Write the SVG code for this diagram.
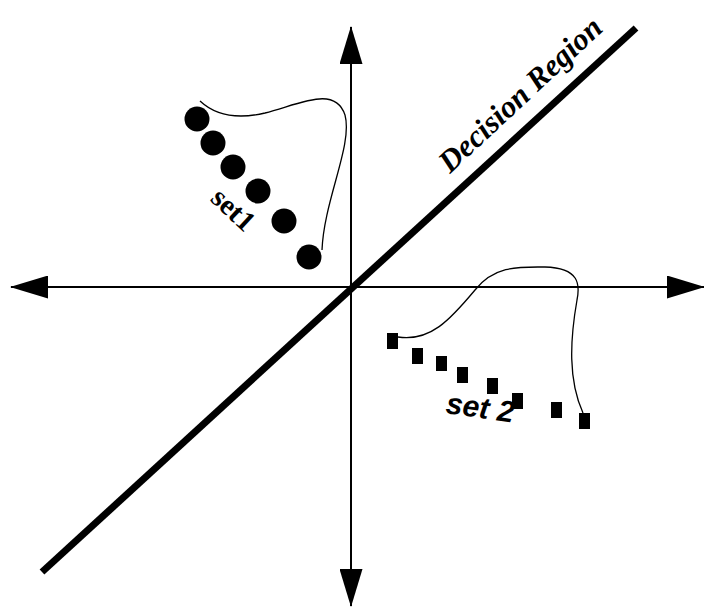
<svg xmlns="http://www.w3.org/2000/svg" width="704" height="607" viewBox="0 0 704 607">
<style>
.axis{stroke:#000;stroke-width:2;fill:none}
.boundary{stroke:#000;stroke-width:7;fill:none}
.curve{stroke:#000;stroke-width:1.3;fill:none}
.dot{fill:#000}
.sq{fill:#000}
.serif{font-family:"Liberation Serif","Times New Roman",serif;font-weight:bold;fill:#000}
.sans{font-family:"Liberation Sans",Arial,sans-serif;font-weight:bold;font-style:italic;fill:#000}
</style>
<defs>
<marker id="arrow" markerUnits="userSpaceOnUse" markerWidth="38" markerHeight="23" refX="37" refY="11.5" orient="auto-start-reverse" viewBox="0 0 38 23">
<path d="M0,0 L38,11.5 L0,23 z" fill="#000"/>
</marker>
</defs>
<g id="connectors">
<line class="axis" x1="11" y1="287" x2="704" y2="287" marker-start="url(#arrow)" marker-end="url(#arrow)"/>
<line class="axis" x1="351" y1="27" x2="351" y2="606" marker-start="url(#arrow)" marker-end="url(#arrow)"/>
<line class="boundary" x1="42" y1="572" x2="636" y2="28"/>
<path class="curve" d="M200,101 C215,115 235,120 265,113 C300,104 335,85 345,115 C353,145 324,200 322,250"/>
<path class="curve" d="M398,337 C430,342 450,320 475,290 C495,265 520,267 545,267 C580,268 580,285 577,300 C570,340 568,380 583,413"/>
</g>
<g id="set1">
<circle class="dot" cx="197" cy="119" r="12.5"/>
<circle class="dot" cx="213" cy="143" r="12.5"/>
<circle class="dot" cx="233" cy="167" r="12.5"/>
<circle class="dot" cx="258" cy="191" r="12.5"/>
<circle class="dot" cx="284" cy="221" r="12.5"/>
<circle class="dot" cx="309" cy="257" r="12.5"/>
<text class="serif" font-size="29" text-anchor="middle" transform="translate(233,210) rotate(43)" y="9">set1</text>
</g>
<g id="set2">
<rect class="sq" x="387" y="333" width="11" height="16"/>
<rect class="sq" x="412" y="348" width="11" height="16"/>
<rect class="sq" x="436" y="356" width="11" height="15"/>
<rect class="sq" x="457" y="367" width="11" height="16"/>
<rect class="sq" x="487" y="378" width="11" height="16"/>
<rect class="sq" x="512" y="393" width="11" height="16"/>
<rect class="sq" x="551" y="402" width="11" height="16"/>
<rect class="sq" x="579" y="413" width="11" height="16"/>
<text class="sans" font-size="30" transform="translate(445,413) rotate(8)">set 2</text>
</g>
<g id="decision-region">
<text class="serif" font-style="italic" font-size="31" transform="translate(450,174) rotate(-43)">Decision Region</text>
</g>
</svg>
